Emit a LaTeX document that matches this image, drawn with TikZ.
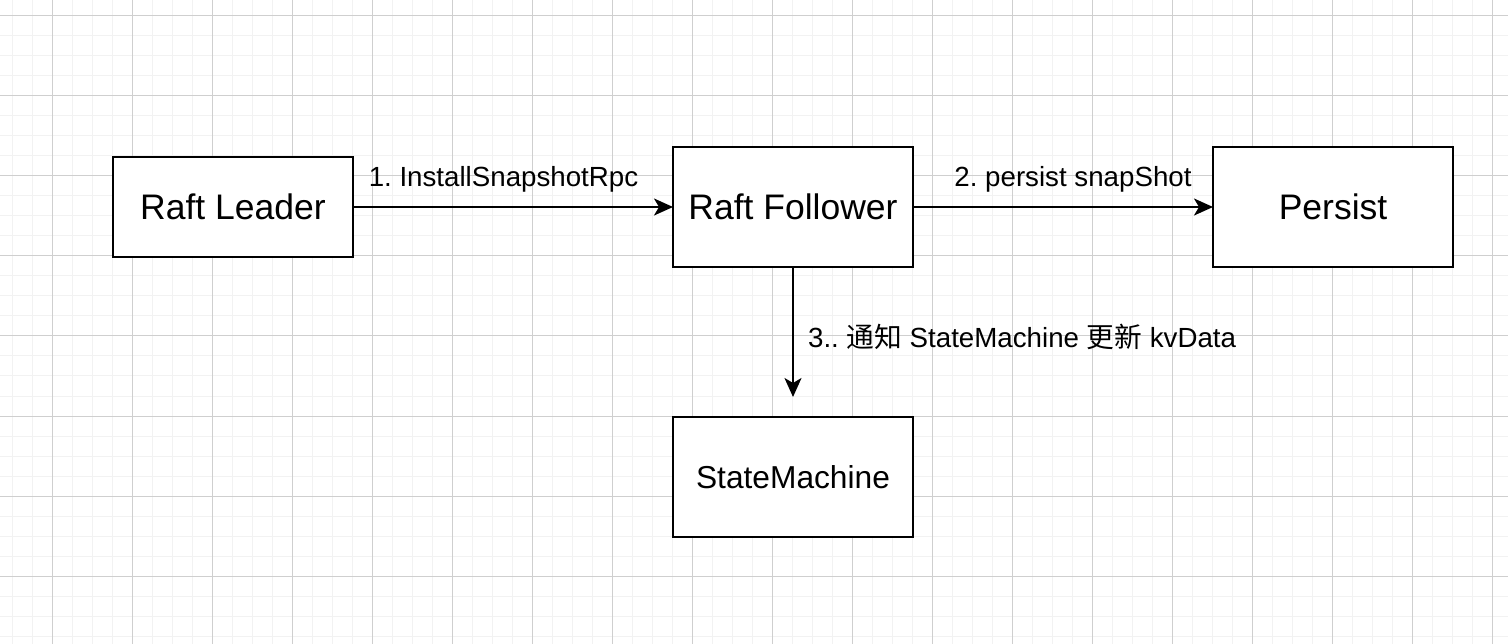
\documentclass[tikz,border=0pt]{standalone}
\usepackage{fontspec}
\setmainfont{Liberation Sans}
\newfontfamily\cjk{Noto Sans CJK SC}
\usetikzlibrary{positioning}
\usetikzlibrary{arrows.meta}
\usetikzlibrary{math}
\frenchspacing

\begin{document}
\begin{tikzpicture}[x=1pt, y=-1pt,
    minorline/.style={draw=gray!10, line width=1pt},
    majorline/.style={draw=gray!38, line width=1pt},
    box/.style={draw=black, line width=2.2pt, fill=white, inner sep=0pt, outer sep=0pt,
      minimum width=\bw pt, minimum height=\bh pt, font=\fontsize{35.5}{40}\selectfont},
    flow/.style={draw=black, line width=2.2pt, -{Stealth[length=19pt,width=17pt,inset=5pt]}},
    lbl/.style={inner sep=0pt, font=\fontsize{27.7}{32}\selectfont}]
      \tikzmath{
        \W = 1508;
        \H = 644;
        \bw = 240;
        \bh = 120;
        \row = 207;
      }

      \useasboundingbox (0,0) rectangle (\W,\H);
      \fill[white] (0,0) rectangle (\W,\H);

      % background grid
      \foreach \gx in {12,32,...,1492} \draw[minorline] (\gx,0) -- (\gx,\H);
      \foreach \gy in {16,36,...,636} \draw[minorline] (0,\gy) -- (\W,\gy);
      \foreach \gx in {52,132,...,1492} \draw[majorline] (\gx,0) -- (\gx,\H);
      \foreach \gy in {16,96,...,636} \draw[majorline] (0,\gy) -- (\W,\gy);

      \node[box, minimum height=100pt] (leader) at (233,\row) {Raft Leader};
      \node[box] (follower) at (793,\row) {Raft Follower};
      \node[box] (persist) at (1333,\row) {Persist};
      \node[box, font=\fontsize{31.7}{36}\selectfont] (sm) at (793,477) {StateMachine};

      \coordinate (smIn) at ([yshift=20pt]sm.north);

      \draw[flow] (leader) -- (follower)
        node[lbl, midway, anchor=base, xshift=-9.5pt, yshift=20pt] {1. InstallSnapshotRpc};
      \draw[flow] (follower) -- (persist)
        node[lbl, midway, anchor=base, xshift=10pt, yshift=20pt] {2. persist snapShot};
      \draw[flow] (follower) -- (smIn)
        node[lbl, midway, anchor=base west, xshift=14pt, yshift=-16pt] {3.. {\cjk 通知} StateMachine {\cjk 更新} kvData};

    \end{tikzpicture}
\end{document}
